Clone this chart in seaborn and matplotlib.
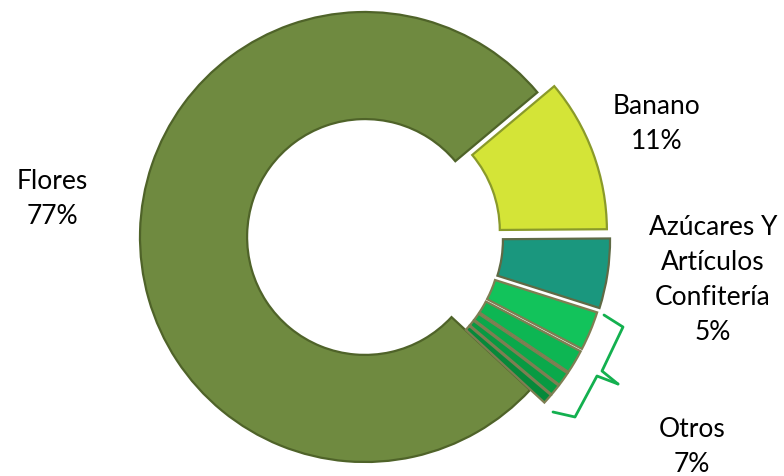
import numpy as np
import pandas as pd
from matplotlib import pyplot as plt
import seaborn as sns

# slices in drawing order (counter-clockwise from the top gap)
categories = ['Flores', 'Otros 5', 'Otros 4', 'Otros 3', 'Otros 2', 'Otros 1',
              'Azúcares Y\nArtículos\nConfitería', 'Banano']
values = [77, 0.7, 0.8, 1.0, 1.7, 2.8, 5, 11]
colors = ['#6F8A40', '#06893A', '#089A42', '#0AA94B', '#0DB653', '#12C35B',
          '#1A977E', '#D4E437']
edges = ['#4F6329', '#7E7E52', '#7E7E52', '#7E7E52', '#7E7E52', '#7E7E52',
         '#5F6A45', '#8A9A2A']
explode = [0, 0.085, 0.085, 0.085, 0.085, 0.085, 0.09, 0.08]

df = pd.DataFrame({'cat': categories, 'val': values})
otros_total = df.loc[df['cat'].str.startswith('Otros'), 'val'].sum()

sns.set_theme(style='white')
plt.rcParams['font.family'] = ['Lato', 'DejaVu Sans']

fig = plt.figure(figsize=(7.84, 4.77), dpi=100)
ax = fig.add_axes([0, 0, 1, 1])

wedges, _ = ax.pie(df['val'], colors=colors, startangle=40, counterclock=True,
                   explode=explode, radius=1.0,
                   wedgeprops=dict(width=0.476, linewidth=1.6))
for w, e in zip(wedges, edges):
    w.set_edgecolor(e)

# pixel-based placement helper (center of the ring at 365,238, radius 225 px)
def px(x, y):
    return (x - 365) / 225, (238 - y) / 225

txt = dict(ha='center', va='center', fontsize=19, color='black', linespacing=1.5)
ax.text(*px(52, 199), f"Flores\n{values[0]:g}%", **txt)
ax.text(*px(657, 124), f"Banano\n{values[-1]:g}%", **txt)
ax.text(*px(713, 280), f"{categories[6]}\n{values[6]:g}%", **txt)
ax.text(*px(692, 447), f"Otros\n{otros_total:g}%", **txt)

# brace grouping the small slices
top = np.array([px(604, 316), px(623, 328), px(602, 372), px(618, 385)])
bot = np.array([px(618, 385), px(597, 377), px(575, 418), px(553, 413)])
for seg in (top, bot):
    ax.plot(seg[:, 0], seg[:, 1], color='#13B04F', lw=2, solid_joinstyle='round')

ax.set_xlim(-365 / 225, (784 - 365) / 225)
ax.set_ylim((238 - 477) / 225, 238 / 225)
ax.set_aspect('equal')
ax.axis('off')

plt.savefig('out.png', dpi=100)
